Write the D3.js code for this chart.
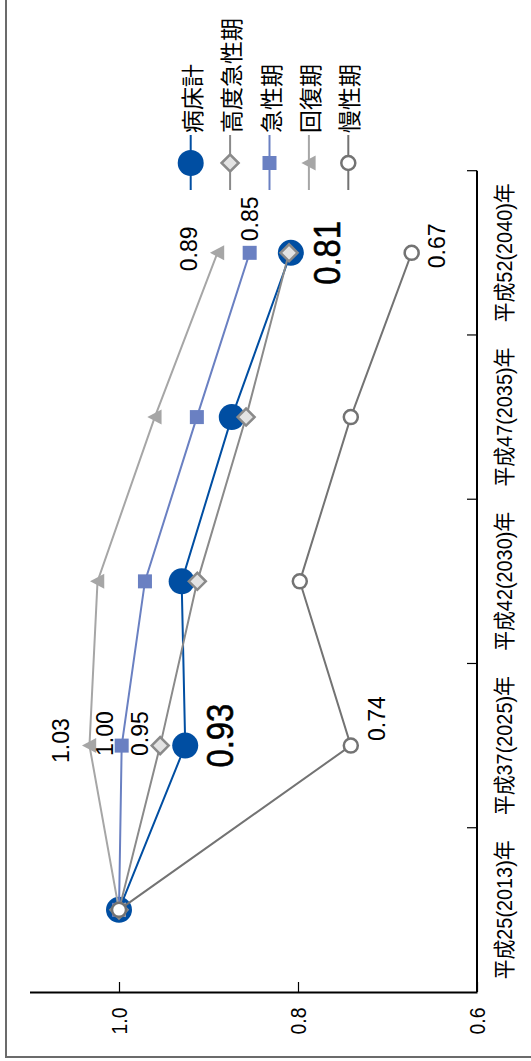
<!DOCTYPE html>
<html>
<head>
<meta charset="utf-8">
<script src="https://cdn.jsdelivr.net/npm/d3@7"></script>
<style>
  html, body { margin: 0; padding: 0; background: #fff; }
  svg { display: block; font-family: "Liberation Sans", Arial, "Noto Sans CJK JP", sans-serif; }
</style>
</head>
<body>
<svg id="chart" width="531" height="1061"></svg>
<script>
// ---- data ----
const categories = ["平成25(2013)年", "平成37(2025)年", "平成42(2030)年", "平成47(2035)年", "平成52(2040)年"];
const seriesNames = ["病床計", "高度急性期", "急性期", "回復期", "慢性期"];
const valuesTotal    = [1.0, 0.926, 0.930, 0.874, 0.808];
const valuesHighAcute = [1.0, 0.954, 0.9125, 0.858, 0.810];
const valuesAcute    = [1.0, 0.997, 0.971, 0.913, 0.854];
const valuesRecovery = [1.0, 1.033, 1.024, 0.960, 0.890];
const valuesChronic  = [1.0, 0.741, 0.798, 0.741, 0.673];
const valueTicks = [1.0, 0.8, 0.6];
// which points carry a value label: [series index, category index]
const labelledPoints = [[0,1],[1,1],[2,1],[3,1],[4,1],[0,4],[2,4],[3,4],[4,4]];

// ---- styles ----
const seriesValues = [valuesTotal, valuesHighAcute, valuesAcute, valuesRecovery, valuesChronic];
const styles = [
  { color: "#004ea2", marker: "bigcircle" },
  { color: "#8a8a8a", marker: "diamond" },
  { color: "#6a80c2", marker: "square" },
  { color: "#a6a6a6", marker: "triangle" },
  { color: "#737373", marker: "opencircle" }
];
// label offsets (screen px) keyed "s-c"
const labelStyle = {
  "0-1": { dx: 35, dy: -10, big: true },
  "1-1": { dx: -20, dy: -12 },
  "2-1": { dx: -17, dy: -12 },
  "3-1": { dx: -28, dy: -5 },
  "4-1": { dx: 26, dy: -27 },
  "0-4": { dx: 37, dy: 0, big: true },
  "2-4": { dx: 0, dy: -34 },
  "3-4": { dx: -28, dy: -4 },
  "4-4": { dx: 25, dy: -7 }
};

const svg = d3.select("#chart");

// frame
svg.append("rect").attr("x", 6).attr("y", -10).attr("width", 600).attr("height", 1067)
  .attr("fill", "none").attr("stroke", "#6b6b6b").attr("stroke-width", 2);

const axisY = 992, axisX = 477;
const x = d3.scaleLinear().domain([0.6, 1.1]).range([axisX, 29.5]);
const y = d3.scaleBand().domain(categories).range([axisY, 170.7]);
const yc = c => y(c) + y.bandwidth() / 2;

// value axis (bottom)
const gx = svg.append("g").attr("transform", `translate(0,${axisY})`)
  .call(d3.axisBottom(x).tickValues(valueTicks).tickFormat(d3.format(".1f")).tickSizeInner(-10).tickSizeOuter(0));
gx.select(".domain").attr("stroke", "#000").attr("stroke-width", 2);
gx.selectAll(".tick line").attr("stroke", "#000").attr("stroke-width", 1.2);
gx.selectAll(".tick text")
  .attr("x", 0).attr("y", 0).attr("dy", null)
  .attr("transform", "translate(0,29) rotate(-90)")
  .attr("text-anchor", "middle").attr("dominant-baseline", "central")
  .attr("font-size", 22).attr("fill", "#000")
  .attr("font-family", "'Liberation Sans', Arial, sans-serif")
  .attr("textLength", 27).attr("lengthAdjust", "spacingAndGlyphs");

// category axis (right)
const gy = svg.append("g");
gy.append("line").attr("x1", axisX).attr("x2", axisX).attr("y1", 170.7).attr("y2", axisY)
  .attr("stroke", "#000").attr("stroke-width", 2);
gy.selectAll("line.tk").data(categories).join("line").attr("class", "tk")
  .attr("x1", axisX - 10).attr("x2", axisX)
  .attr("y1", d => y(d)).attr("y2", d => y(d))
  .attr("stroke", "#000").attr("stroke-width", 1.2);
gy.selectAll("text").data(categories).join("text")
  .attr("transform", d => `translate(${axisX + 27},${yc(d)}) rotate(-90)`)
  .attr("text-anchor", "middle").attr("dominant-baseline", "central")
  .attr("font-size", 22).attr("fill", "#000")
  .attr("textLength", 139).attr("lengthAdjust", "spacingAndGlyphs")
  .text(d => d);

// markers
function drawMarker(g, type, color, cx, cy) {
  if (type === "bigcircle") {
    g.append("circle").attr("cx", cx).attr("cy", cy).attr("r", 13).attr("fill", color);
  } else if (type === "diamond") {
    const r = 8.5;
    g.append("path").attr("d", `M${cx - r},${cy}L${cx},${cy - r}L${cx + r},${cy}L${cx},${cy + r}Z`)
      .attr("fill", "#e3e3e3").attr("stroke", color).attr("stroke-width", 2.5);
  } else if (type === "square") {
    const r = 7;
    g.append("rect").attr("x", cx - r).attr("y", cy - r).attr("width", 2 * r).attr("height", 2 * r).attr("fill", color);
  } else if (type === "triangle") {
    const r = 7.5;
    g.append("path").attr("d", `M${cx - r},${cy}L${cx + r * 0.9},${cy - r}L${cx + r * 0.9},${cy + r}Z`).attr("fill", color);
  } else if (type === "opencircle") {
    g.append("circle").attr("cx", cx).attr("cy", cy).attr("r", 7)
      .attr("fill", "#fff").attr("stroke", color).attr("stroke-width", 2.5);
  }
}

// series
const line = d3.line().x(d => x(d.v)).y(d => yc(d.c));
seriesValues.forEach((vals, si) => {
  const st = styles[si];
  const pts = vals.map((v, i) => ({ v, c: categories[i] }));
  const g = svg.append("g");
  g.append("path").datum(pts).attr("d", line).attr("fill", "none")
    .attr("stroke", st.color).attr("stroke-width", 2);
  pts.forEach(p => drawMarker(g, st.marker, st.color, x(p.v), yc(p.c)));
});

// value labels
labelledPoints.forEach(([si, ci]) => {
  const v = seriesValues[si][ci];
  const ls = labelStyle[`${si}-${ci}`];
  const cx = x(v) + ls.dx, cy = yc(categories[ci]) + ls.dy;
  const t = svg.append("text")
    .attr("transform", `translate(${cx},${cy}) rotate(-90)`)
    .attr("text-anchor", "middle").attr("dominant-baseline", "central")
    .attr("font-size", ls.big ? 36 : 23)
    .attr("fill", "#000")
    .text(d3.format(".2f")(v));
  if (ls.big) t.attr("stroke", "#000").attr("stroke-width", 0.6)
    .attr("textLength", 64).attr("lengthAdjust", "spacingAndGlyphs");
});

// legend
const legendX0 = 190.7, legendDX = 39.4, legendMarkerY = 163;
seriesNames.forEach((name, i) => {
  const st = styles[i];
  const lx = legendX0 + i * legendDX;
  const g = svg.append("g");
  g.append("line").attr("x1", lx).attr("x2", lx).attr("y1", 135).attr("y2", 190)
    .attr("stroke", st.color).attr("stroke-width", 2);
  drawMarker(g, st.marker, st.color, lx, legendMarkerY);
  g.append("text")
    .attr("transform", `translate(${lx},133) rotate(-90)`)
    .attr("text-anchor", "start").attr("dominant-baseline", "central")
    .attr("font-size", 23).attr("fill", "#000")
    .attr("font-family", "'Noto Sans CJK JP', sans-serif")
    .text(name);
});
</script>
</body>
</html>
